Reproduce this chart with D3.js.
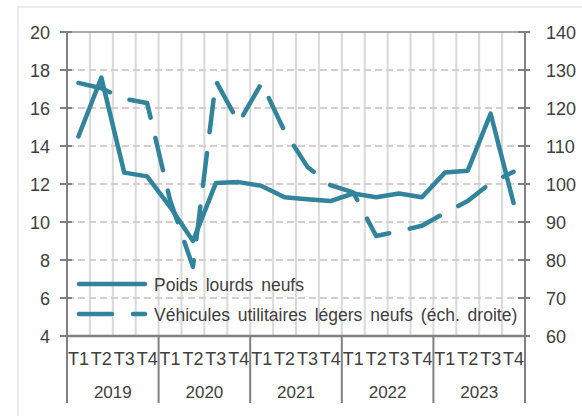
<!DOCTYPE html>
<html>
<head>
<meta charset="utf-8">
<script src="https://cdn.jsdelivr.net/npm/d3@7"></script>
<style>
  body { margin: 0; background: #fff; }
  text { font-family: "Liberation Sans", Arial, sans-serif; fill: #404040; }
</style>
</head>
<body>
<svg id="chart" width="582" height="416"></svg>
<script>
// ---------------------------------------------------------------- data
var quarters = ["T1", "T2", "T3", "T4"];
var years = ["2019", "2020", "2021", "2022", "2023"];
var poids_lourds = [14.5, 17.6, 12.6, 12.4, 10.8, 9.0, 12.05, 12.1, 11.9, 11.3, 11.2, 11.1, 11.5, 11.3, 11.5, 11.3, 12.6, 12.7, 15.7, 11.0];
var vul = [126.6, 125.2, 122.4, 121.3, 95.8, 78.2, 127.1, 116.1, 126.6, 113.9, 104.5, 99.7, 97.8, 86.3, 87.6, 89.0, 92.4, 95.5, 100.3, 103.2];
var left_ticks = [4, 6, 8, 10, 12, 14, 16, 18, 20];
var right_ticks = [60, 70, 80, 90, 100, 110, 120, 130, 140];
var legend_labels = ["Poids lourds neufs", "Véhicules utilitaires légers neufs (éch. droite)"];

// ---------------------------------------------------------------- layout
var margin = { left: 67, right: 525, top: 32, bottom: 336 };
var line_color = "#31849B";
var svg = d3.select("#chart");

var periods = [];
years.forEach((y) => quarters.forEach((q) => periods.push(y + q)));

var xScale = d3.scaleBand().domain(periods).range([margin.left, margin.right]);
var yLeft = d3.scaleLinear().domain([4, 20]).range([margin.bottom, margin.top]);
var yRight = d3.scaleLinear().domain([60, 140]).range([margin.bottom, margin.top]);
var xc = (i) => xScale(periods[i]) + xScale.bandwidth() / 2;

// outer frame
svg.append("path").attr("d", "M18,416 L18,7 L582,7").attr("fill", "none").attr("stroke", "#ececec").attr("stroke-width", 2);

// vertical grid
svg.selectAll(".vgrid").data(periods.slice(1)).join("line").attr("class", "vgrid")
  .attr("x1", (d) => xScale(d)).attr("x2", (d) => xScale(d))
  .attr("y1", margin.top).attr("y2", margin.bottom)
  .attr("stroke", "#d9d9d9").attr("stroke-width", 2);

// horizontal dashed grid
svg.selectAll(".hgrid").data(left_ticks.slice(1, -1)).join("line").attr("class", "hgrid")
  .attr("x1", margin.left).attr("x2", margin.right)
  .attr("y1", (d) => yLeft(d)).attr("y2", (d) => yLeft(d))
  .attr("stroke", "#dacccc").attr("stroke-width", 2).attr("stroke-dasharray", "7,4");

// top border
svg.append("line").attr("x1", margin.left).attr("x2", margin.right).attr("y1", margin.top).attr("y2", margin.top)
  .attr("stroke", "#8c8c8c").attr("stroke-width", 1.5);

// left axis
svg.append("line").attr("x1", margin.left).attr("x2", margin.left).attr("y1", margin.top).attr("y2", margin.bottom)
  .attr("stroke", "#808080").attr("stroke-width", 2);
svg.selectAll(".ltick").data(left_ticks).join("line").attr("class", "ltick")
  .attr("x1", margin.left - 7).attr("x2", margin.left + 5)
  .attr("y1", (d) => yLeft(d)).attr("y2", (d) => yLeft(d))
  .attr("stroke", "#808080").attr("stroke-width", 2);
svg.selectAll(".llabel").data(left_ticks).join("text").attr("class", "llabel")
  .attr("x", 50).attr("y", (d) => yLeft(d) + 6.5).attr("text-anchor", "end")
  .attr("font-size", 18).text((d) => d);

// right axis
svg.append("line").attr("x1", margin.right).attr("x2", margin.right).attr("y1", margin.top).attr("y2", margin.bottom)
  .attr("stroke", "#808080").attr("stroke-width", 2);
svg.selectAll(".rtick").data(right_ticks).join("line").attr("class", "rtick")
  .attr("x1", margin.right - 7).attr("x2", margin.right + 5)
  .attr("y1", (d) => yRight(d)).attr("y2", (d) => yRight(d))
  .attr("stroke", "#808080").attr("stroke-width", 2);
svg.selectAll(".rlabel").data(right_ticks).join("text").attr("class", "rlabel")
  .attr("x", 546).attr("y", (d) => yRight(d) + 6.5).attr("text-anchor", "start")
  .attr("font-size", 18).text((d) => d);

// bottom axis
svg.append("line").attr("x1", margin.left).attr("x2", margin.right).attr("y1", margin.bottom).attr("y2", margin.bottom)
  .attr("stroke", "#808080").attr("stroke-width", 2.5);
var year_edges = years.map((y) => xScale(y + "T1")).concat([margin.right]);
svg.selectAll(".ysep").data(year_edges).join("line").attr("class", "ysep")
  .attr("x1", (d) => d).attr("x2", (d) => d).attr("y1", margin.bottom).attr("y2", 403)
  .attr("stroke", "#808080").attr("stroke-width", 2);
svg.selectAll(".qlabel").data(periods).join("text").attr("class", "qlabel")
  .attr("x", (d, i) => xc(i)).attr("y", 365).attr("text-anchor", "middle")
  .attr("font-size", 18).text((d) => d.slice(4));
svg.selectAll(".ylabel").data(years).join("text").attr("class", "ylabel")
  .attr("x", (d) => xScale(d + "T1") + xScale.bandwidth() * 2).attr("y", 398).attr("text-anchor", "middle")
  .attr("font-size", 17).text((d) => d);

// series
var lineL = d3.line().x((d, i) => xc(i)).y((d) => yLeft(d));
var lineR = d3.line().x((d, i) => xc(i)).y((d) => yRight(d));
svg.append("path").datum(vul).attr("d", lineR).attr("fill", "none")
  .attr("stroke", line_color).attr("stroke-width", 4.5).attr("stroke-linecap", "round").attr("stroke-linejoin", "round")
  .attr("stroke-dasharray", "33,21");
svg.append("path").datum(poids_lourds).attr("d", lineL).attr("fill", "none")
  .attr("stroke", line_color).attr("stroke-width", 4.5).attr("stroke-linecap", "round").attr("stroke-linejoin", "round");

// legend
var legend = svg.selectAll(".legend").data(legend_labels).join("g").attr("class", "legend")
  .attr("transform", (d, i) => "translate(0," + (284 + i * 30) + ")");
legend.append("line").attr("x1", 79).attr("x2", 145).attr("y1", 0).attr("y2", 0)
  .attr("stroke", line_color).attr("stroke-width", 4.5).attr("stroke-linecap", "round")
  .attr("stroke-dasharray", (d, i) => i == 1 ? "33,21" : null);
legend.append("text").attr("x", 154).attr("y", 7).attr("font-size", 17.5).attr("word-spacing", 3).text((d) => d);
</script>
</body>
</html>
